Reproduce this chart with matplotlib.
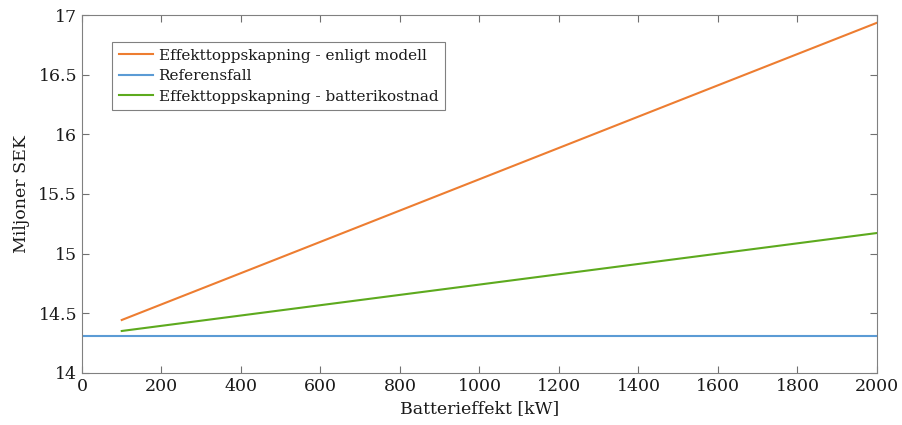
import numpy as np
import matplotlib.pyplot as plt

plt.rcParams['font.family'] = ['DejaVu Serif']

# Batterieffekt [kW]
effekt = np.array([100, 500, 1000, 1500, 2000])
enligt_modell = np.array([14.444, 14.968, 15.624, 16.280, 16.935])
batterikostnad = np.array([14.352, 14.525, 14.741, 14.957, 15.173])
ref_effekt = np.array([0, 2000])
referensfall = np.array([14.313, 14.313])

fig = plt.figure(figsize=(9.03, 4.25), dpi=100)
ax = fig.add_axes([0.0908, 0.1224, 0.8804, 0.8423])

ax.plot(effekt, enligt_modell, color='#ED7D31', lw=1.5, label='Effekttoppskapning - enligt modell')
ax.plot(ref_effekt, referensfall, color='#5B9BD5', lw=1.5, label='Referensfall')
ax.plot(effekt, batterikostnad, color='#5DAA1E', lw=1.5, label='Effekttoppskapning - batterikostnad')

ax.set_xlim(0, 2000)
ax.set_ylim(14, 17)
ax.set_xticks(np.arange(0, 2001, 200))
ax.set_yticks([14, 14.5, 15, 15.5, 16, 16.5, 17])
ax.set_yticklabels(['14', '14.5', '15', '15.5', '16', '16.5', '17'])
ax.tick_params(direction='in', top=True, right=True, length=5, color='#707070',
               labelsize=12.5, labelcolor='#1a1a1a')
for s in ax.spines.values():
    s.set_color('#808080')
    s.set_linewidth(0.8)

ax.set_xlabel('Batterieffekt [kW]', fontsize=12.5, color='#1a1a1a', labelpad=4)
ax.set_ylabel('Miljoner SEK', fontsize=12.5, color='#1a1a1a', labelpad=6)

leg = ax.legend(loc='upper left', bbox_to_anchor=(0.0377, 0.925), fontsize=11,
                fancybox=False, framealpha=1, edgecolor='#808080',
                borderpad=0.45, labelspacing=0.42, handlelength=2.25, handletextpad=0.35,
                borderaxespad=0)
leg.get_frame().set_linewidth(0.8)
for t in leg.get_texts():
    t.set_color('#1a1a1a')

fig.savefig('out.png', dpi=100)
